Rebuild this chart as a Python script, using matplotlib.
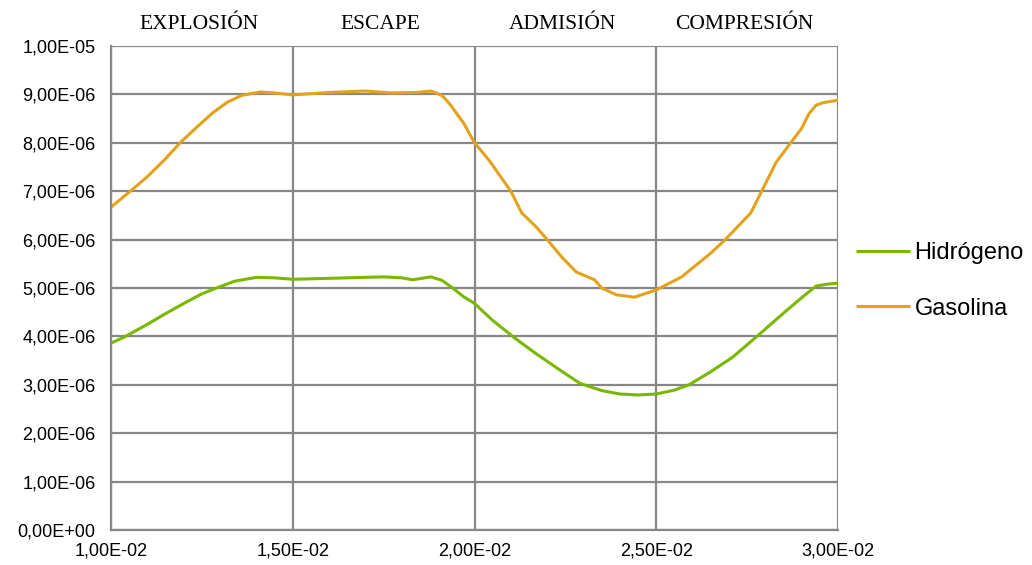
import matplotlib
matplotlib.use('Agg')
import matplotlib.pyplot as plt
import matplotlib.transforms as mtransforms
from matplotlib.ticker import FuncFormatter, MultipleLocator

# Data (y values in units of 1E-06)
x_gas = [0.0100, 0.0105, 0.0110, 0.0115, 0.0119, 0.0124, 0.0128, 0.0132,
         0.0136, 0.0141, 0.0145, 0.0150, 0.0160, 0.0170, 0.0177, 0.0184,
         0.0188, 0.0191, 0.0193, 0.0197, 0.0200, 0.0204, 0.0210, 0.0213,
         0.0217, 0.0220, 0.0224, 0.0228, 0.0233, 0.0235, 0.0239, 0.0244,
         0.0250, 0.0257, 0.0265, 0.0269, 0.0276, 0.0279, 0.0283, 0.0287,
         0.0290, 0.0292, 0.0294, 0.0296, 0.0300]
gasolina = [6.67, 6.98, 7.30, 7.67, 8.00, 8.35, 8.62, 8.84,
            8.98, 9.05, 9.03, 8.99, 9.04, 9.07, 9.03, 9.04,
            9.07, 8.98, 8.82, 8.41, 8.00, 7.64, 7.00, 6.55,
            6.26, 6.00, 5.64, 5.33, 5.17, 5.00, 4.86, 4.81,
            4.96, 5.23, 5.72, 6.00, 6.55, 7.00, 7.60, 8.00,
            8.30, 8.60, 8.78, 8.83, 8.88]

x_h2 = [0.0100, 0.0104, 0.0110, 0.0115, 0.0120, 0.0125, 0.0129, 0.0134,
        0.0140, 0.0145, 0.0150, 0.0160, 0.0175, 0.0180, 0.0183, 0.0188,
        0.0191, 0.0194, 0.0197, 0.0200, 0.0205, 0.0211, 0.0217, 0.0223,
        0.0229, 0.0235, 0.0240, 0.0245, 0.0250, 0.0255, 0.0259, 0.0265,
        0.0271, 0.0278, 0.0285, 0.0290, 0.0294, 0.0297, 0.0300]
hidrogeno = [3.86, 4.00, 4.25, 4.47, 4.68, 4.88, 5.00, 5.14,
             5.22, 5.21, 5.18, 5.20, 5.23, 5.21, 5.17, 5.23,
             5.16, 5.00, 4.82, 4.68, 4.33, 3.97, 3.64, 3.33,
             3.03, 2.88, 2.81, 2.79, 2.81, 2.89, 3.00, 3.27,
             3.57, 4.02, 4.48, 4.80, 5.04, 5.08, 5.10]

phase_names = ['EXPLOSIÓN', 'ESCAPE', 'ADMISIÓN', 'COMPRESIÓN']
phase_edges = [0.010, 0.015, 0.020, 0.025, 0.030]

scale = 1e-6
grid_col = '#878787'

fig = plt.figure(figsize=(10.32, 5.65), dpi=100)
ax = fig.add_axes([111 / 1032, 1 - 530 / 565, 727 / 1032, 484 / 565])

ax.plot(x_h2, [v * scale for v in hidrogeno], color='#7AB800', lw=2.2,
        label='Hidrógeno', solid_capstyle='butt', solid_joinstyle='round')
ax.plot(x_gas, [v * scale for v in gasolina], color='#E3A21A', lw=2.2,
        label='Gasolina', solid_capstyle='butt', solid_joinstyle='round')

ax.set_xlim(0.010, 0.030)
ax.set_ylim(0, 1e-5)
ax.xaxis.set_major_locator(MultipleLocator(0.005))
ax.yaxis.set_major_locator(MultipleLocator(1e-6))

fmt = FuncFormatter(lambda v, p: f'{v:.2E}'.replace('.', ','))
ax.xaxis.set_major_formatter(fmt)
ax.yaxis.set_major_formatter(fmt)

ax.grid(True, color=grid_col, lw=1.6)
ax.set_axisbelow(True)
for side in ['top', 'right']:
    ax.spines[side].set_visible(False)
for side in ['left', 'bottom']:
    ax.spines[side].set_color(grid_col)
    ax.spines[side].set_linewidth(1.6)

ax.tick_params(length=0, labelsize=13, colors='black')
ax.tick_params(axis='y', pad=11)
ax.tick_params(axis='x', pad=9)
for lbl in ax.get_xticklabels() + ax.get_yticklabels():
    lbl.set_family('Liberation Sans')

# Phase labels above the plot
trans = mtransforms.blended_transform_factory(ax.transData, ax.transAxes)
for i, name in enumerate(phase_names):
    xc = (phase_edges[i] + phase_edges[i + 1]) / 2 - 0.00008
    ax.text(xc, 1.044, name, transform=trans, ha='center', va='center',
            family='Liberation Serif', fontsize=15.5)

leg = ax.legend(loc='center left', bbox_to_anchor=(0.829, 0.503),
                bbox_transform=fig.transFigure, frameon=False,
                prop={'family': 'Liberation Sans', 'size': 17},
                handlelength=2.3, handletextpad=0.2, labelspacing=1.42,
                borderpad=0, borderaxespad=0)

fig.savefig('out.png', dpi=100)
